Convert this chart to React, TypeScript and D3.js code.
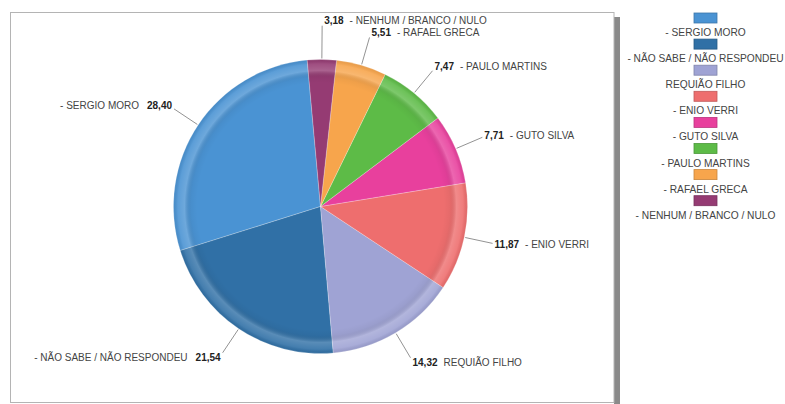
import { useMemo } from "react";
import * as d3 from "d3";

// candidates in legend order (the pie draws them counter-clockwise from the top)
const names = [
  "- SERGIO MORO",
  "- NÃO SABE / NÃO RESPONDEU",
  "REQUIÃO FILHO",
  "- ENIO VERRI",
  "- GUTO SILVA",
  "- PAULO MARTINS",
  "- RAFAEL GRECA",
  "- NENHUM / BRANCO / NULO",
];
const values = [28.4, 21.54, 14.32, 11.87, 7.71, 7.47, 5.51, 3.18];
const colors = [
  "#4a93d3",
  "#3070a6",
  "#9fa3d4",
  "#ee6e6e",
  "#e8409d",
  "#5dbb47",
  "#f7a54c",
  "#953b73",
];

const W = 785;
const H = 404;
const CX = 320.5;
const CY = 206.5;
const R = 147;
const FONT = "'Liberation Sans', Arial, sans-serif";

type Slice = d3.PieArcDatum<number> & { i: number };

export default function App() {
  const fmt = (v: number) => v.toFixed(2).replace(".", ",");

  const slices = useMemo(() => {
    const start = (-5.2 * Math.PI) / 180;
    const pie = d3
      .pie<number>()
      .sort(null)
      .startAngle(start)
      .endAngle(start - 2 * Math.PI);
    return pie(values).map((d, i) => ({ ...d, i })) as Slice[];
  }, []);

  const arc = d3.arc<Slice>().innerRadius(0).outerRadius(R);

  // label anchors: leader line from the rim outward, then push crowded ones up
  const labels = useMemo(() => {
    const out = slices.map((s) => {
      const a = (s.startAngle + s.endAngle) / 2;
      const sin = Math.sin(a);
      const cos = Math.cos(a);
      const r1 = R + 1;
      const r2 = R + 29;
      return {
        i: s.i,
        a,
        sin,
        cos,
        x1: CX + r1 * sin,
        y1: CY - r1 * cos,
        x2: CX + r2 * sin,
        y2: CY - r2 * cos,
        base: CY - r2 * cos + 3.5 - 5.5 * cos,
      };
    });
    // upper-right labels: go from the lower one upward, keep 12px apart
    const upperRight = out
      .filter((l) => l.sin >= 0 && l.cos > 0)
      .sort((p, q) => q.base - p.base);
    for (let k = 1; k < upperRight.length; k++) {
      const below = upperRight[k - 1];
      const l = upperRight[k];
      if (below.base - l.base < 12) {
        const shift = 12 - (below.base - l.base);
        l.base -= shift;
        l.y2 -= shift;
        const r2 = (CY - l.y2) / l.cos;
        l.x2 = CX + r2 * l.sin;
      }
    }
    return out;
  }, [slices]);

  const legendTop = 13;
  const legendStep = 26.1;

  return (
    <svg
      width={W}
      height={H}
      style={{ position: "absolute", left: 0, top: 0, background: "#fff" }}
      fontFamily={FONT}
    >
      <defs>
        <radialGradient id="rim" cx={CX} cy={CY} r={R} gradientUnits="userSpaceOnUse">
          <stop offset="0" stopColor="#000" stopOpacity={0} />
          <stop offset="0.84" stopColor="#000" stopOpacity={0} />
          <stop offset="0.88" stopColor="#000" stopOpacity={0.035} />
          <stop offset="0.925" stopColor="#fff" stopOpacity={0.2} />
          <stop offset="0.97" stopColor="#fff" stopOpacity={0.1} />
          <stop offset="1" stopColor="#000" stopOpacity={0.06} />
        </radialGradient>
      </defs>

      {/* plot frame with its gray shadow on the right */}
      <rect x={614} y={17} width={6} height={H - 17} fill="#8a8a8a" />
      <rect x={10.5} y={12.5} width={603.5} height={390} fill="#fff" stroke="#b4b4b4" />

      <g transform={`translate(${CX},${CY})`}>
        {slices.map((s) => (
          <path
            key={s.i}
            d={arc(s) || ""}
            fill={colors[s.i]}
            stroke="#fff"
            strokeOpacity={0.4}
            strokeWidth={0.6}
          />
        ))}
      </g>
      <circle cx={CX} cy={CY} r={R} fill="url(#rim)" />

      {labels.map((l) => {
        const right = l.sin >= 0;
        const tx = right ? l.x2 + 2 : l.x2 - 2;
        return (
          <g key={l.i} fontSize={10}>
            <line x1={l.x1} y1={l.y1} x2={l.x2} y2={l.y2} stroke="#777" strokeWidth={0.8} />
            {right ? (
              <text x={tx} y={l.base} textAnchor="start" fill="#444">
                <tspan fontWeight="bold" fill="#222">
                  {fmt(values[l.i])}
                </tspan>
                <tspan dx={6}>{names[l.i]}</tspan>
              </text>
            ) : (
              <text x={tx} y={l.base} textAnchor="end" fill="#444">
                <tspan>{names[l.i]}</tspan>
                <tspan dx={8} fontWeight="bold" fill="#222">
                  {fmt(values[l.i])}
                </tspan>
              </text>
            )}
          </g>
        );
      })}

      {/* legend */}
      <g fontSize={10.2}>
        {names.map((n, i) => {
          const y = legendTop + i * legendStep;
          return (
            <g key={n}>
              <rect
                x={694}
                y={y}
                width={23}
                height={10}
                fill={colors[i]}
                stroke={d3.color(colors[i])!.darker(0.6).formatHex()}
                strokeWidth={0.8}
              />
              <text x={705.5} y={y + 23} textAnchor="middle" fill="#444">
                {n}
              </text>
            </g>
          );
        })}
      </g>
    </svg>
  );
}
